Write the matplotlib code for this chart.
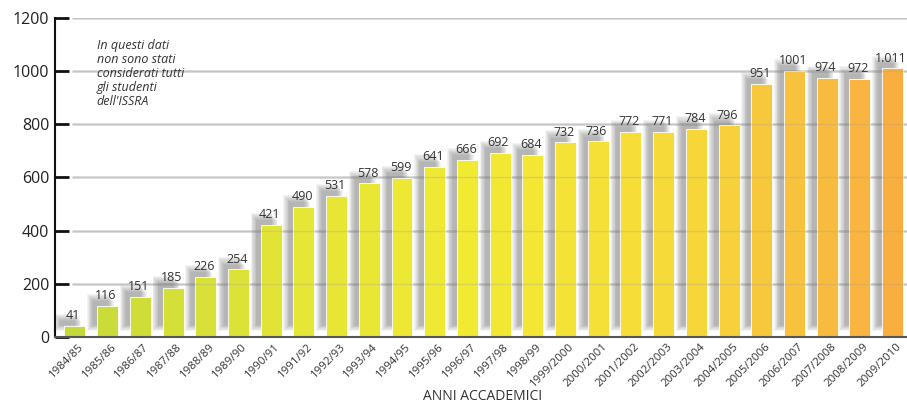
import numpy as np
import matplotlib.pyplot as plt
from matplotlib.colors import LinearSegmentedColormap

anni = ["1984/85", "1985/86", "1986/87", "1987/88", "1988/89", "1989/90",
        "1990/91", "1991/92", "1992/93", "1993/94", "1994/95", "1995/96",
        "1996/97", "1997/98", "1998/99", "1999/2000", "2000/2001", "2001/2002",
        "2002/2003", "2003/2004", "2004/2005", "2005/2006", "2006/2007",
        "2007/2008", "2008/2009", "2009/2010"]
studenti = [41, 116, 151, 185, 226, 254, 421, 490, 531, 578, 599, 641, 666,
            692, 684, 732, 736, 772, 771, 784, 796, 951, 1001, 974, 972, 1011]
etichette = ["41", "116", "151", "185", "226", "254", "421", "490", "531",
             "578", "599", "641", "666", "692", "684", "732", "736", "772",
             "771", "784", "796", "951", "1001", "974", "972", "1.011"]
y_ticks = [0, 200, 400, 600, 800, 1000, 1200]

cmap = LinearSegmentedColormap.from_list(
    "giallo", ["#c6d93a", "#e3e535", "#f2ea33", "#f7d83a", "#f9ae40"])

fig = plt.figure(figsize=(9.07, 4.05), dpi=100)
ax = fig.add_axes([55 / 907, 68 / 405, 852 / 907, 319 / 405])

x = np.arange(len(studenti))
w = 0.64
colori = [cmap(i / (len(x) - 1)) for i in x]

# ombre sfumate dietro le barre (strati sovrapposti per simulare il blur)
for k in range(8):
    off = 0.13 + 0.025 * k
    top = 18 + 4 * k
    ax.bar(x - off, [v + top - 45 + 3 * k for v in studenti], width=w,
           bottom=45 - 3 * k, color="#606060", alpha=0.07,
           linewidth=0, zorder=1)

# griglia dietro
for yv in y_ticks[1:]:
    ax.hlines(yv, -0.1, len(x) - 0.5, color="#d6d6d6", linewidth=1.8, zorder=0.5)

ax.bar(x, studenti, width=w, color=colori, edgecolor="#ffffff",
       linewidth=0.6, zorder=2)

# griglia sopra (trasparente)
for yv in y_ticks[1:]:
    ax.hlines(yv, -0.1, len(x) - 0.5, color="#a0a0a0", linewidth=1.0,
              alpha=0.3, zorder=3)

for xi, v, t in zip(x, studenti, etichette):
    ax.text(xi - 0.05, v + 14, t, ha="center", va="bottom", fontsize=9,
            color="#333333", zorder=4, family="Open Sans")

ax.set_xlim(-0.61, 25.44)
ax.set_ylim(0, 1200)
ax.set_yticks(y_ticks)
ax.set_yticklabels([str(t) for t in y_ticks], fontsize=11.5, color="#222222",
                   family="Open Sans")
ax.tick_params(axis="y", direction="in", length=10, width=2, color="#111111",
               pad=4)
ax.set_xticks(x + 0.1)
ax.set_xticklabels(anni, rotation=45, ha="right", rotation_mode="anchor",
                   fontsize=8.2, color="#333333", family="Open Sans")
ax.tick_params(axis="x", length=0, pad=3)

for s in ["top", "right"]:
    ax.spines[s].set_visible(False)
ax.spines["left"].set_linewidth(1.5)
ax.spines["left"].set_color("#111111")
ax.spines["bottom"].set_linewidth(1.5)
ax.spines["bottom"].set_color("#555555")

ax.text(0.67, 1120, "In questi dati\nnon sono stati\nconsiderati tutti\ngli studenti\ndell'ISSRA",
        fontsize=9, style="italic", color="#333333", va="top", ha="left",
        linespacing=1.1, family="Open Sans")

fig.text(483 / 907, 1 - 396 / 405, "ANNI ACCADEMICI", ha="center",
         va="center", fontsize=10, color="#333333", family="Open Sans")

fig.savefig("out.png", dpi=100)
